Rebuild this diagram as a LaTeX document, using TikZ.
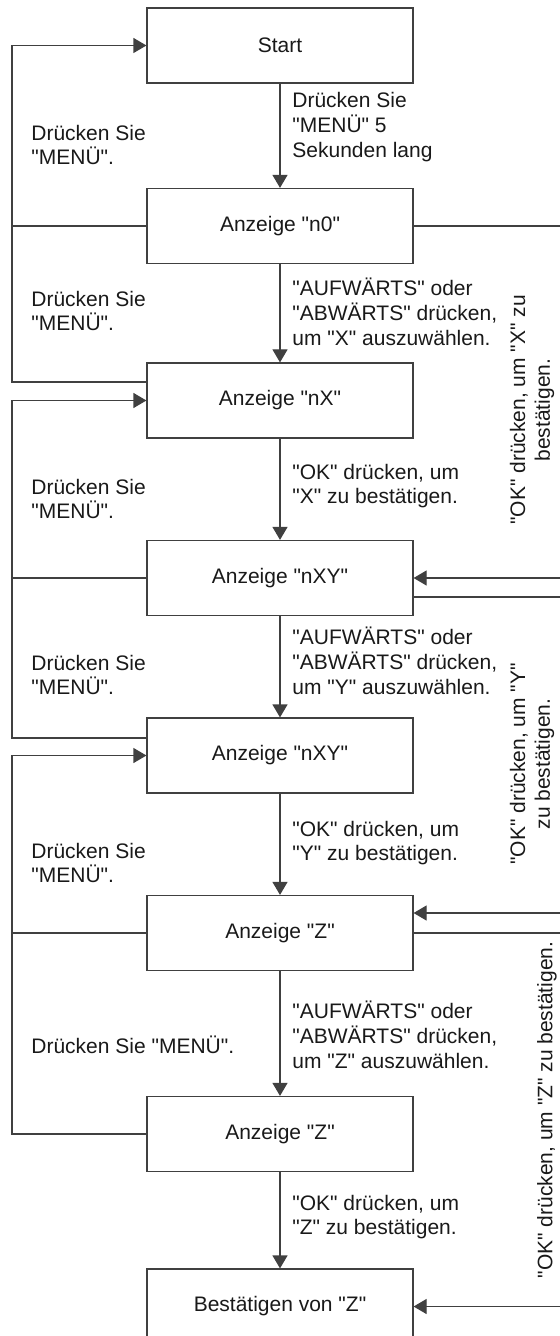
\documentclass[tikz,border=0pt]{standalone}
\usepackage{fontspec}
\setmainfont{Liberation Sans}[Ligatures=TeXOff]
\usetikzlibrary{arrows.meta}
\begin{document}
\begin{tikzpicture}[x=0.5pt,y=0.5pt,
    font=\fontsize{10.5}{12.4}\selectfont,
    box/.style={draw=black!75,line width=0.6pt,minimum width=133pt,minimum height=37.5pt,inner sep=0pt,text=black!90},
    lbl/.style={align=left,anchor=west,inner sep=0pt,text=black!90},
    rot/.style={align=center,rotate=90,inner sep=0pt,text=black!90},
    link/.style={draw=black!75,line width=0.6pt},
    go/.style={link,-{Triangle[length=6.5pt,width=7.5pt]}}]
    \useasboundingbox (0,0) rectangle (560,-1336);
    \clip (0,0) rectangle (560,-1336);
    \node[box] (start) at (280,-45.5) {Start};
    \node[box] (n0) at (280,-226) {Anzeige "n0"};
    \node[box] (nx) at (280,-400.5) {Anzeige "nX"};
    \node[box] (nxy) at (280,-578) {Anzeige "nXY"};
    \node[box] (nxyb) at (280,-755.5) {Anzeige "nXY"};
    \node[box] (z) at (280,-933) {Anzeige "Z"};
    \node[box] (zb) at (280,-1134) {Anzeige "Z"};
    \node[box] (conf) at (280,-1306.5) {Bestätigen von "Z"};
    \draw[go] (start) -- (n0);
    \draw[go] (n0) -- (nx);
    \draw[go] (nx) -- (nxy);
    \draw[go] (nxy) -- (nxyb);
    \draw[go] (nxyb) -- (z);
    \draw[go] (z) -- (zb);
    \draw[go] (zb) -- (conf);
    \draw[go] ([yshift=9.25pt]nx.west) -- ++(-134.5,0) |- (start.west);
    \draw[link] (n0.west) -- ++(-134.5,0);
    \draw[go] ([yshift=8.75pt]nxyb.west) -- ++(-134.5,0) |- (nx.west);
    \draw[link] (nxy.west) -- ++(-134.5,0);
    \draw[go] (zb.west) -- ++(-134.5,0) |- (nxyb.west);
    \draw[link] (z.west) -- ++(-134.5,0);
    \draw[go] (n0.east) -- ++(160,0) |- (nxy.east);
    \draw[go] ([yshift=-9.5pt]nxy.east) -- ++(160,0) |- ([yshift=10pt]z.east);
    \draw[go] (z.east) -- ++(160,0) |- (conf.east);
    \node[lbl] (m1) at (31,-145) {Drücken Sie\\"MENÜ".};
    \node[lbl] (m2) at (31,-311) {Drücken Sie\\"MENÜ".};
    \node[lbl] (m3) at (31,-499) {Drücken Sie\\"MENÜ".};
    \node[lbl] (m4) at (31,-675) {Drücken Sie\\"MENÜ".};
    \node[lbl] (m5) at (31,-863) {Drücken Sie\\"MENÜ".};
    \node[lbl] (m6) at (31,-1045) {Drücken Sie "MENÜ".};
    \node[lbl] (s1) at (292,-127) {Drücken Sie\\"MENÜ" 5\\Sekunden lang};
    \node[lbl] (s2) at (292,-312) {"AUFWÄRTS" oder\\"ABWÄRTS" drücken,\\um "X" auszuwählen.};
    \node[lbl] (s3) at (292,-486) {"OK" drücken, um\\"X" zu bestätigen.};
    \node[lbl] (s4) at (292,-661) {"AUFWÄRTS" oder\\"ABWÄRTS" drücken,\\um "Y" auszuwählen.};
    \node[lbl] (s5) at (292,-843) {"OK" drücken, um\\"Y" zu bestätigen.};
    \node[lbl] (s6) at (292,-1035) {"AUFWÄRTS" oder\\"ABWÄRTS" drücken,\\um "Z" auszuwählen.};
    \node[lbl] (s7) at (292,-1217) {"OK" drücken, um\\"Z" zu bestätigen.};
    \node[rot] (ok1) at (532,-410) {"OK" drücken, um "X" zu\\bestätigen.};
    \node[rot] (ok2) at (532,-764) {"OK" drücken, um "Y"\\zu bestätigen.};
    \node[rot] (ok3) at (547,-1110) {"OK" drücken, um "Z" zu bestätigen.};
\end{tikzpicture}
\end{document}
